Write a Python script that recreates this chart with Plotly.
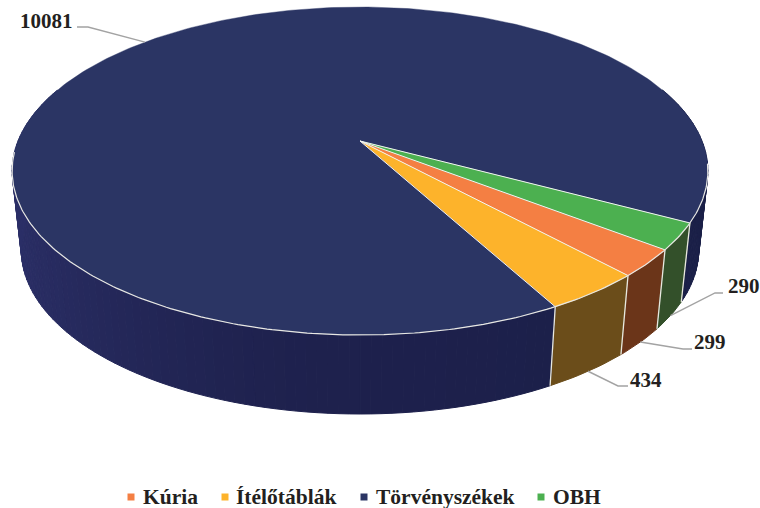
import numpy as np
import plotly.graph_objects as go

categories = ["Kúria", "Ítélőtáblák", "Törvényszékek", "OBH"]
values = [299, 434, 10081, 290]
top_colors = ["#F47F43", "#FDB32B", "#2B3564", "#4CB050"]
side_colors = ["#6B3519", "#6B4D1A", "#1E214D", "#33502A"]
label_pos = [(710, 342), (646, 380), (46, 21), (744, 286)]
elbow_pos = [(683, 349), (618, 386), (88, 27), (715, 293)]
stub_pos = [(692, 349), (628, 386), (77, 27), (723, 293)]
legend_marker_x = [131, 225, 364, 541]
legend_text_x = [142, 235, 375, 552]
LEGEND_Y = 497
FONT = "Liberation Serif"

START = 37.6
P = 0.183
TOP = dict(cy=141, a=342.0, b=158.5)
BOT = dict(cy=220, a=333.0, b=158.5)
CX = 360


def rim(t_deg, g):
    t = np.radians(t_deg)
    w = 1 - P * np.sin(t)
    return CX + g["a"] * np.cos(t) / w, g["cy"] + g["b"] * np.sin(t) / w


def hex_rgb(h):
    return np.array([int(h[i:i + 2], 16) for i in (1, 3, 5)], float)


def shade(hexcol, t_deg, navy):
    c = np.cos(np.radians(t_deg))
    col = hex_rgb(hexcol)
    if navy and c < 0:
        col = col + (hex_rgb("#2C3068") - col) * (-c) ** 1.6
    elif navy and c > 0:
        col = col + (hex_rgb("#1B2048") - col) * c
    return "rgb(%d,%d,%d)" % tuple(col)


total = sum(values)
spans = [v / total * 360 for v in values]
starts = START + np.concatenate([[0], np.cumsum(spans)[:-1]])

fig = go.Figure()


def poly(xs, ys, fill, line=None, width=1.0):
    fig.add_trace(go.Scatter(x=xs, y=ys, mode="lines", fill="toself", fillcolor=fill,
                             line=dict(color=line or fill, width=width),
                             hoverinfo="skip", showlegend=False))


# side wall, painted strip by strip
for i, (s0, sp) in enumerate(zip(starts, spans)):
    if i == 2:
        ts = np.linspace(s0, s0 + sp, int(sp / 1.5) + 1)
        segs = list(zip(ts[:-1], ts[1:]))
    else:
        segs = [(s0, s0 + sp)]
    for a, b in segs:
        if np.sin(np.radians((a + b) / 2)) < -0.35:
            continue
        tt = np.linspace(a, b, 12)
        tx, ty = rim(tt, TOP)
        bx, by = rim(tt, BOT)
        poly(np.r_[tx, bx[::-1], tx[0]], np.r_[ty, by[::-1], ty[0]],
             shade(side_colors[i], (a + b) / 2, i == 2))

# white vertical edges on the wall
for s0 in starts:
    if np.sin(np.radians(s0)) > -0.1:
        tx, ty = rim(np.array([s0]), TOP)
        bx, by = rim(np.array([s0]), BOT)
        fig.add_trace(go.Scatter(x=[tx[0], bx[0]], y=[ty[0], by[0]], mode="lines",
                                 line=dict(color="#E8E8E0", width=1.3),
                                 hoverinfo="skip", showlegend=False))

# top face
for i, (s0, sp) in enumerate(zip(starts, spans)):
    tt = np.linspace(s0, s0 + sp, max(8, int(sp)))
    x, y = rim(tt, TOP)
    poly(np.r_[CX, x, CX], np.r_[TOP["cy"], y, TOP["cy"]], top_colors[i], line=top_colors[i], width=0.4)

# white wedge edges and front rim
for s0 in starts:
    x, y = rim(np.array([s0]), TOP)
    fig.add_trace(go.Scatter(x=[CX, x[0]], y=[TOP["cy"], y[0]], mode="lines",
                             line=dict(color="#F2F2F2", width=1),
                             hoverinfo="skip", showlegend=False))
rt = np.linspace(8, 176, 240)
rx, ry = rim(rt, TOP)
fig.add_trace(go.Scatter(x=rx, y=ry, mode="lines", line=dict(color="#E8E8E4", width=1.2),
                         hoverinfo="skip", showlegend=False))

# leader lines and value labels
for i, (s0, sp) in enumerate(zip(starts, spans)):
    mid = s0 + sp / 2
    ax, ay = rim(np.array([mid]), TOP if np.sin(np.radians(mid)) < 0 else BOT)
    fig.add_trace(go.Scatter(x=[ax[0], elbow_pos[i][0], stub_pos[i][0]],
                             y=[ay[0], elbow_pos[i][1], stub_pos[i][1]], mode="lines",
                             line=dict(color="#A3A3A3", width=1.4),
                             hoverinfo="skip", showlegend=False))
    fig.add_annotation(x=label_pos[i][0], y=label_pos[i][1], text=f"<b>{values[i]}</b>",
                       showarrow=False, font=dict(family=FONT, size=21, color="#231F20"))

# legend
for i, name in enumerate(categories):
    fig.add_trace(go.Scatter(x=[legend_marker_x[i]], y=[LEGEND_Y], mode="markers",
                             marker=dict(symbol="square", size=7, color=top_colors[i]),
                             name=name, hoverinfo="name", showlegend=False))
    fig.add_annotation(x=legend_text_x[i], y=LEGEND_Y, text=f"<b>{name}</b>", xanchor="left",
                       showarrow=False, xshift=-1,
                       font=dict(family=FONT, size=21.5, color="#231F20"))

fig.update_layout(
    width=760, height=508, margin=dict(l=0, r=0, t=0, b=0),
    paper_bgcolor="white", plot_bgcolor="white", showlegend=False,
    xaxis=dict(range=[0, 760], visible=False, fixedrange=True),
    yaxis=dict(range=[508, 0], visible=False, fixedrange=True),
)
fig.write_html("out.html", config=dict(displayModeBar=False),
               post_script="document.body.style.margin='0';document.documentElement.style.overflow='hidden';")
